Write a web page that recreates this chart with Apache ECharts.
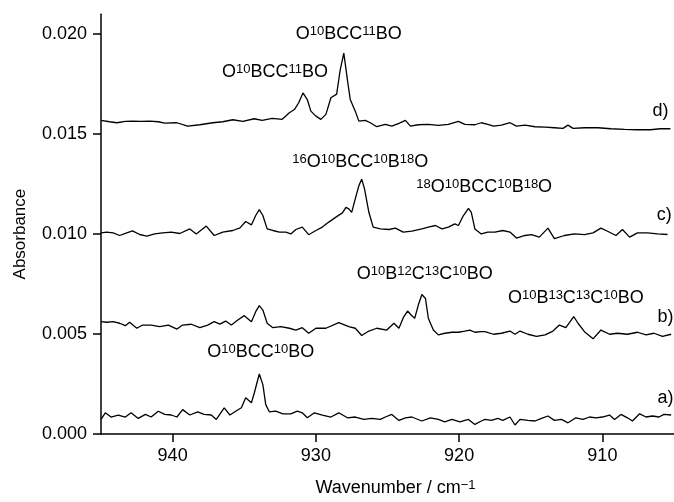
<!DOCTYPE html>
<html>
<head>
<meta charset="utf-8">
<script src="https://cdn.jsdelivr.net/npm/echarts@6/dist/echarts.min.js"></script>
<style>
  html, body { margin: 0; padding: 0; background: #fff; }
  #chart { width: 674px; height: 502px; }
</style>
</head>
<body>
<div id="chart"></div>
<script>
// spectra: [wavenumber, absorbance]
var traceA = [[945.0,0.00073],[944.7,0.00106],[944.3,0.00085],[943.8,0.00095],[943.3,0.00085],[942.9,0.00106],[942.4,0.00078],[941.9,0.00098],[941.5,0.00085],[941.0,0.00114],[940.55,0.00098],[940.1,0.00095],[939.7,0.00085],[939.3,0.00122],[938.8,0.00095],[938.25,0.00111],[937.8,0.00098],[937.3,0.00095],[936.95,0.00073],[936.4,0.00131],[936.0,0.00095],[935.6,0.00114],[935.2,0.00131],[934.9,0.00181],[934.5,0.00156],[934.3,0.00205],[933.95,0.00300],[933.7,0.00247],[933.5,0.00147],[933.25,0.00111],[932.8,0.00114],[932.3,0.00101],[931.75,0.00101],[931.3,0.00114],[930.95,0.00106],[930.6,0.00081],[930.1,0.00106],[929.55,0.00095],[928.95,0.00085],[928.4,0.00106],[927.8,0.00081],[927.25,0.00085],[926.65,0.00073],[926.1,0.00078],[925.5,0.00073],[925.15,0.00085],[924.7,0.00098],[924.2,0.00068],[923.75,0.00081],[923.3,0.00085],[922.6,0.00065],[922.0,0.00081],[921.45,0.00073],[921.0,0.00061],[920.5,0.00073],[919.95,0.00061],[919.35,0.00073],[918.9,0.00048],[918.45,0.00065],[918.2,0.00073],[917.75,0.00068],[917.3,0.00078],[916.95,0.00068],[916.45,0.00085],[916.1,0.00045],[915.75,0.00073],[915.2,0.00068],[914.7,0.00065],[914.25,0.00078],[913.8,0.00090],[913.35,0.00068],[912.85,0.00073],[912.4,0.00056],[911.85,0.00081],[911.35,0.00073],[910.9,0.00085],[910.45,0.00081],[910.0,0.00085],[909.5,0.00095],[909.15,0.00073],[908.7,0.00098],[908.25,0.00081],[907.9,0.00065],[907.4,0.00101],[906.95,0.00085],[906.5,0.00090],[906.05,0.00085],[905.7,0.00098],[905.2,0.00095]];

var traceB = [[945.0,0.00562],[944.6,0.00559],[944.15,0.00562],[943.7,0.00554],[943.3,0.00542],[943.0,0.00559],[942.5,0.00529],[942.1,0.00545],[941.5,0.00545],[940.9,0.00537],[940.3,0.00545],[939.7,0.00525],[939.3,0.00545],[938.7,0.00549],[938.1,0.00532],[937.55,0.00545],[937.1,0.00562],[936.7,0.00550],[936.3,0.00565],[935.9,0.00545],[935.45,0.00570],[935.0,0.00592],[934.5,0.00562],[934.2,0.00612],[933.95,0.00642],[933.7,0.00620],[933.4,0.00554],[933.0,0.00532],[932.45,0.00537],[931.85,0.00529],[931.4,0.00520],[930.95,0.00532],[930.5,0.00504],[930.0,0.00529],[929.3,0.00529],[928.4,0.00557],[927.7,0.00537],[927.25,0.00529],[926.8,0.00493],[926.3,0.00515],[925.75,0.00529],[925.05,0.00520],[924.55,0.00554],[924.2,0.00529],[923.9,0.00582],[923.6,0.00615],[923.35,0.00595],[923.1,0.00579],[922.85,0.00645],[922.6,0.00698],[922.35,0.00678],[922.15,0.00579],[921.8,0.00520],[921.45,0.00496],[921.0,0.00504],[920.5,0.00509],[920.05,0.00509],[919.6,0.00515],[919.25,0.00520],[918.9,0.00509],[918.45,0.00512],[918.2,0.00512],[917.6,0.00499],[917.05,0.00504],[916.45,0.00515],[916.1,0.00499],[915.75,0.00515],[915.2,0.00499],[914.6,0.00488],[914.0,0.00496],[913.45,0.00515],[913.0,0.00545],[912.55,0.00532],[912.0,0.00587],[911.7,0.00554],[911.25,0.00512],[910.65,0.00476],[910.1,0.00520],[909.5,0.00499],[908.95,0.00504],[908.25,0.00499],[907.55,0.00509],[906.95,0.00496],[906.4,0.00504],[905.8,0.00488],[905.2,0.00499]];

var traceC = [[945.0,0.01006],[944.6,0.01010],[944.15,0.01006],[943.7,0.00993],[943.2,0.01006],[942.8,0.01016],[942.3,0.00998],[941.8,0.00990],[941.25,0.01001],[940.7,0.01006],[940.1,0.01010],[939.5,0.01003],[938.8,0.01026],[938.35,0.01001],[937.65,0.01040],[937.1,0.00993],[936.5,0.01010],[935.8,0.01018],[935.3,0.01031],[934.9,0.01063],[934.5,0.01046],[934.2,0.01093],[933.95,0.01122],[933.7,0.01093],[933.4,0.01026],[933.0,0.01018],[932.55,0.01010],[932.1,0.01010],[931.75,0.01001],[931.4,0.01023],[930.95,0.01035],[930.5,0.00997],[930.0,0.01018],[929.55,0.01035],[929.1,0.01060],[928.6,0.01085],[928.15,0.01106],[927.9,0.01134],[927.7,0.01126],[927.5,0.01109],[927.25,0.01176],[927.0,0.01242],[926.8,0.01275],[926.6,0.01225],[926.3,0.01109],[926.0,0.01035],[925.5,0.01026],[924.9,0.01023],[924.45,0.01030],[923.9,0.01010],[923.3,0.01015],[922.6,0.01026],[922.15,0.01035],[921.65,0.01043],[921.2,0.01026],[920.75,0.01035],[920.3,0.01051],[920.05,0.01043],[919.7,0.01093],[919.35,0.01129],[919.15,0.01109],[918.9,0.01026],[918.45,0.01001],[918.0,0.01010],[917.5,0.01010],[916.95,0.01018],[916.45,0.01010],[916.0,0.00980],[915.4,0.00993],[914.95,0.00997],[914.4,0.00985],[913.8,0.01030],[913.35,0.00977],[912.65,0.00993],[911.95,0.01001],[911.25,0.00997],[910.65,0.01006],[910.1,0.01030],[909.6,0.01013],[909.05,0.00993],[908.6,0.01023],[908.1,0.00985],[907.55,0.01006],[906.85,0.01006],[906.15,0.01001],[905.45,0.00998]];

var traceD = [[945.0,0.01569],[944.4,0.01562],[943.9,0.01557],[943.3,0.01564],[942.8,0.01565],[942.2,0.01564],[941.6,0.01565],[941.0,0.01562],[940.55,0.01555],[939.7,0.01557],[938.95,0.01540],[938.1,0.01547],[937.2,0.01557],[936.5,0.01562],[935.8,0.01572],[935.1,0.01564],[934.3,0.01577],[933.75,0.01569],[933.05,0.01579],[932.35,0.01574],[931.85,0.01607],[931.5,0.01623],[931.2,0.01657],[930.9,0.01706],[930.6,0.01673],[930.35,0.01615],[930.0,0.01590],[929.65,0.01574],[929.3,0.01599],[928.95,0.01682],[928.55,0.01700],[928.3,0.01822],[928.05,0.01905],[927.8,0.01773],[927.6,0.01673],[927.25,0.01615],[927.0,0.01565],[926.55,0.01569],[926.2,0.01557],[925.75,0.01537],[925.15,0.01549],[924.7,0.01540],[924.2,0.01554],[923.75,0.01569],[923.4,0.01540],[922.85,0.01547],[922.15,0.01549],[921.45,0.01544],[920.75,0.01549],[920.05,0.01564],[919.6,0.01549],[918.9,0.01547],[918.45,0.01557],[918.0,0.01549],[917.6,0.01540],[917.05,0.01545],[916.45,0.01557],[916.0,0.01540],[915.4,0.01545],[914.7,0.01537],[914.0,0.01535],[913.35,0.01532],[912.75,0.01529],[912.4,0.01545],[912.05,0.01529],[911.25,0.01532],[910.3,0.01532],[909.4,0.01527],[908.45,0.01524],[907.55,0.01522],[906.65,0.01522],[905.95,0.01527],[905.25,0.01527]];

var xTicks = [940, 930, 920, 910];
var yTicks = [0, 0.005, 0.010, 0.015, 0.020];

// peak assignments (^ = superscript)
var annoText = ['O^10BCC^11BO', 'O^10BCC^11BO', '^16O^10BCC^10B^18O', '^18O^10BCC^10B^18O', 'O^10B^12C^13C^10BO', 'O^10B^13C^13C^10BO', 'O^10BCC^10BO'];
var annoX = [927.7, 932.85, 926.9, 918.25, 922.4, 911.85, 933.85];
var annoY = [0.0200, 0.0181, 0.0136, 0.01235, 0.0080, 0.0068, 0.0041];

var traceNames = ['a)', 'b)', 'c)', 'd)'];
var traceNameX = [906.15, 906.15, 906.2, 906.5];
var traceNameY = [0.00181, 0.00587, 0.01093, 0.01615];

var FONT = '"Liberation Sans", Arial, Helvetica, sans-serif';

function toRich(s) {
  return s.split(/(\^\d+)/).filter(function (p) { return p; }).map(function (p) {
    return p.charAt(0) === '^' ? '{s|' + p.slice(1) + '}' : '{n|' + p + '}';
  }).join('');
}

var richStyle = {
  n: { fontSize: 18, fontFamily: FONT, color: '#000', textBorderWidth: 0, verticalAlign: 'bottom' },
  s: { fontSize: 13, fontFamily: FONT, color: '#000', textBorderWidth: 0, verticalAlign: 'top' }
};

var chart = echarts.init(document.getElementById('chart'));

function lineSeries(data) {
  return {
    type: 'line',
    data: data,
    symbol: 'none',
    silent: true,
    lineStyle: { color: '#000', width: 1.3 }
  };
}

var option = {
  backgroundColor: '#fff',
  animation: false,
  grid: { left: 101, right: -3, top: 14.2, bottom: 65.7 },
  xAxis: {
    type: 'value',
    inverse: true,
    min: 905,
    max: 945,
    name: '{n|Wavenumber / cm}{s|\u22121}',
    nameLocation: 'middle',
    nameGap: 45,
    nameTextStyle: { fontSize: 18, fontFamily: FONT, color: '#000', padding: [0, 0, 0, 16], rich: richStyle },
    axisLine: { lineStyle: { color: '#000', width: 1.5 } },
    axisTick: { show: true, inside: false, length: 8, lineStyle: { color: '#000', width: 1.5 }, customValues: xTicks },
    axisLabel: { margin: 13, fontSize: 18, fontFamily: FONT, color: '#000', customValues: xTicks },
    splitLine: { show: false }
  },
  yAxis: {
    type: 'value',
    min: 0,
    max: 0.021,
    name: 'Absorbance',
    nameLocation: 'middle',
    nameGap: 72,
    nameTextStyle: { fontSize: 17, fontFamily: FONT, color: '#000', padding: [0, 20, 0, 0] },
    axisLine: { show: true, lineStyle: { color: '#000', width: 1.5 } },
    axisTick: { show: true, inside: false, length: 8, lineStyle: { color: '#000', width: 1.5 }, customValues: yTicks },
    axisLabel: {
      margin: 14, fontSize: 18, fontFamily: FONT, color: '#000', customValues: yTicks,
      formatter: function (v) { return v.toFixed(3); }
    },
    splitLine: { show: false }
  },
  series: [
    lineSeries(traceA),
    lineSeries(traceB),
    lineSeries(traceC),
    lineSeries(traceD),
    {
      type: 'scatter',
      symbolSize: 0,
      silent: true,
      itemStyle: { color: '#000' },
      data: annoX.map(function (x, i) {
        return { value: [x, annoY[i]], label: { formatter: toRich(annoText[i]) } };
      }),
      label: {
        show: true, position: 'inside', align: 'center', verticalAlign: 'middle',
        color: '#000', textBorderWidth: 0, opacity: 1, rich: richStyle
      }
    },
    {
      type: 'scatter',
      symbolSize: 0,
      silent: true,
      itemStyle: { color: '#000' },
      data: traceNameX.map(function (x, i) {
        return { value: [x, traceNameY[i]], label: { formatter: traceNames[i] } };
      }),
      label: {
        show: true, position: 'inside', align: 'left', verticalAlign: 'middle',
        fontSize: 18, fontFamily: FONT, color: '#000', textBorderWidth: 0, opacity: 1
      }
    }
  ]
};

chart.setOption(option);
</script>
</body>
</html>
